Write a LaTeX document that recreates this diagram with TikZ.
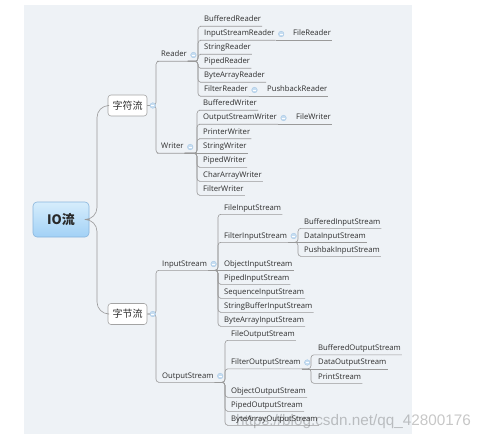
\documentclass[tikz,border=0pt]{standalone}
\usepackage{fontspec}
\setmainfont{Open Sans}
\newfontfamily\cjk{Noto Sans CJK SC}
\newfontfamily\wmfont{Liberation Sans}
\definecolor{panel}{HTML}{EEF2F6}
\definecolor{txt}{HTML}{2E2E2E}
\definecolor{linec}{HTML}{9A9A9A}
\definecolor{boxline}{HTML}{A4A4A4}
\definecolor{mkfill}{HTML}{C6DDF1}
\definecolor{mkline}{HTML}{A9C9E6}
\definecolor{iotop}{HTML}{D6EDFC}
\definecolor{iobot}{HTML}{A2D1F6}
\definecolor{ioline}{HTML}{88B5DD}
\tikzset{
 leaf/.style={font=\fontsize{7.7}{8}\selectfont, text=txt, inner xsep=1pt, inner ysep=2.5pt, text height=5.6pt, text depth=1.6pt, anchor=west},
 conn/.style={draw=linec, line width=0.6pt, rounded corners=3pt},
 trunk/.style={draw=linec, line width=0.6pt, rounded corners=12pt},
 topic/.style={draw=boxline, fill=white, line width=0.6pt, rounded corners=3pt, minimum width=39pt, minimum height=21pt, font=\cjk\fontsize{10}{12}\selectfont, text=txt, inner sep=0pt},
 mk/.style={circle, fill=mkfill, draw=mkline, line width=0.4pt, minimum size=5.6pt, inner sep=0pt, xshift=5.5pt, anchor=center,
   path picture={\draw[white, line width=0.7pt] ([xshift=-1.6pt]path picture bounding box.center) -- ([xshift=1.6pt]path picture bounding box.center);}},
}
\begin{document}
\begin{tikzpicture}[x=1pt,y=-1pt]
\useasboundingbox (0,0) rectangle (488,436);
\fill[panel] (24,5) rectangle (412,434);

% spine coordinates
\coordinate (sp0) at (97,0);
\coordinate (sp1) at (156,0);
\coordinate (spR) at (198,0);
\coordinate (spW) at (197,0);
\coordinate (spI) at (218,0);
\coordinate (spO) at (225,0);
\coordinate (spFI) at (298,0);
\coordinate (spFO) at (311,0);

% root and main topics
\node[draw=ioline, line width=0.6pt, top color=iotop, bottom color=iobot, rounded corners=4pt,
      minimum width=56pt, minimum height=35pt, inner sep=0pt,
      font=\cjk\bfseries\fontsize{13}{15}\selectfont, text=txt!90!black] (io) at (61,219.5) {IO流};
\node[topic] (zf) at (127.5,105.5) {字符流};
\node[topic] (zj) at (127.5,314) {字节流};

% level 2
\node[leaf] (reader) at (160,55) {Reader};
\node[leaf] (writer) at (160,147) {Writer};
\node[leaf] (instream) at (161,264) {InputStream};
\node[leaf] (outstream) at (161,376) {OutputStream};

% Reader children
\node[leaf] (br) at (203,20) {BufferedReader};
\node[leaf] (isr) at (203,34) {InputStreamReader};
\node[leaf] (sr) at (203,48) {StringReader};
\node[leaf] (pr) at (203,62) {PipedReader};
\node[leaf] (bar) at (203,76) {ByteArrayReader};
\node[leaf] (fr) at (203,90) {FilterReader};
\node[leaf] (fileR) at (292,34) {FileReader};
\node[leaf] (pbR) at (266,90) {PushbackReader};

% Writer children
\node[leaf] (bw) at (202,104) {BufferedWriter};
\node[leaf] (osw) at (202,118) {OutputStreamWriter};
\node[leaf] (pw) at (202,132.5) {PrinterWriter};
\node[leaf] (sw) at (202,147) {StringWriter};
\node[leaf] (pdw) at (202,161) {PipedWriter};
\node[leaf] (caw) at (202,175) {CharArrayWriter};
\node[leaf] (fw) at (202,189) {FilterWriter};
\node[leaf] (fileW) at (295,118) {FileWriter};

% InputStream children
\node[leaf] (fis) at (223,208) {FileInputStream};
\node[leaf] (filis) at (223,236) {FilterInputStream};
\node[leaf] (ois) at (223,264) {ObjectInputStream};
\node[leaf] (pis) at (223,278) {PipedInputStream};
\node[leaf] (sis) at (223,292) {SequenceInputStream};
\node[leaf] (sbis) at (223,306) {StringBufferInputStream};
\node[leaf] (bais) at (223,320) {ByteArrayInputStream};
\node[leaf] (bis) at (303,222) {BufferedInputStream};
\node[leaf] (dis) at (303,236) {DataInputStream};
\node[leaf] (pbis) at (303,250) {PushbakInputStream};

% OutputStream children
\node[leaf] (fos) at (230,334) {FileOutputStream};
\node[leaf] (filos) at (230,362.5) {FilterOutputStream};
\node[leaf] (oos) at (230,391) {ObjectOutputStream};
\node[leaf] (pos) at (230,405) {PipedOutputStream};
\node[leaf] (baos) at (230,419) {ByteArrayOutputStream};
\node[leaf] (bos) at (317,348.5) {BufferedOutputStream};
\node[leaf] (dos) at (317,362.5) {DataOutputStream};
\node[leaf] (ps) at (317,377) {PrintStream};

% trunk
\draw[trunk] (io.east) -- (io.east -| sp0) |- (zf.west);
\draw[trunk] (io.east) -- (io.east -| sp0) |- (zj.west);

% main topics to level 2
\foreach \c in {reader,writer}
  \draw[conn] (zf.east) -- (zf.east -| sp1) |- (\c.south west) -- (\c.south east);
\foreach \c in {instream,outstream}
  \draw[conn] (zj.east) -- (zj.east -| sp1) |- (\c.south west) -- (\c.south east);

% Reader
\foreach \c in {br,isr,sr,pr,bar,fr}
  \draw[conn] (reader.south east) -- (reader.south east -| spR) |- (\c.south west) -- (\c.south east);
\draw[conn] (isr.south east) -- (fileR.south west) -- (fileR.south east);
\draw[conn] (fr.south east) -- (pbR.south west) -- (pbR.south east);

% Writer
\foreach \c in {bw,osw,pw,pdw,caw,fw}
  \draw[conn] (writer.south east) -- (writer.south east -| spW) |- (\c.south west) -- (\c.south east);
\draw[conn] (writer.south east) -- (sw.south west) -- (sw.south east);
\draw[conn] (osw.south east) -- (fileW.south west) -- (fileW.south east);

% InputStream
\foreach \c in {fis,filis,pis,sis,sbis,bais}
  \draw[conn] (instream.south east) -- (instream.south east -| spI) |- (\c.south west) -- (\c.south east);
\draw[conn] (instream.south east) -- (ois.south west) -- (ois.south east);
\foreach \c in {bis,pbis}
  \draw[conn] (filis.south east) -- (filis.south east -| spFI) |- (\c.south west) -- (\c.south east);
\draw[conn] (filis.south east) -- (dis.south west) -- (dis.south east);

% OutputStream
\foreach \c in {fos,filos,oos,pos,baos}
  \draw[conn] (outstream.south east) -- (outstream.south east -| spO) |- (\c.south west) -- (\c.south east);
\foreach \c in {bos,ps}
  \draw[conn] (filos.south east) -- (filos.south east -| spFO) |- (\c.south west) -- (\c.south east);
\draw[conn] (filos.south east) -- (dos.south west) -- (dos.south east);

% collapse markers
\node[mk] (mzf) at (zf.east) {};
\node[mk] (mzj) at (zj.east) {};
\node[mk] (mreader) at (reader.east) {};
\node[mk] (mwriter) at (writer.east) {};
\node[mk] (minstream) at (instream.east) {};
\node[mk] (moutstream) at (outstream.east) {};
\node[mk] (misr) at (isr.east) {};
\node[mk] (mfr) at (fr.east) {};
\node[mk] (mosw) at (osw.east) {};
\node[mk] (mfilis) at (filis.east) {};
\node[mk] (mfilos) at (filos.east) {};

% watermark
\node[font=\wmfont\fontsize{15.3}{16}\selectfont, text=black, text opacity=0.22, anchor=base west, inner sep=0pt] (wm) at (236,425) {https://blog.csdn.net/qq\_42800176};
\end{tikzpicture}
\end{document}
